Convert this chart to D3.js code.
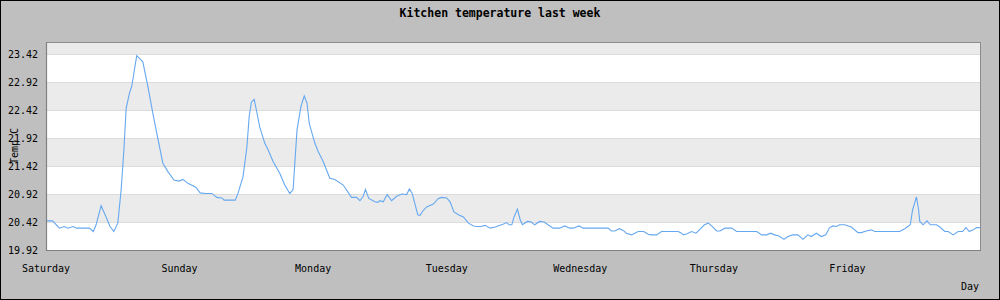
<!DOCTYPE html>
<html>
<head>
<meta charset="utf-8">
<script src="https://cdn.jsdelivr.net/npm/d3@7.9.0/dist/d3.min.js"></script>
<style>
  html, body { margin: 0; padding: 0; background: #bfbfbf; }
  svg { display: block; }
</style>
</head>
<body>
<svg id="chart" width="1000" height="300"></svg>
<script>
// hours since Saturday 00:00
const hours = [
  0, 1.2, 2.4, 3.3, 3.9, 4.9, 5.5, 7.8, 8.5, 9.0, 9.9, 10.8, 11.5, 12.2, 12.9, 13.5, 14.0, 14.4, 15.0, 15.4,
  16.3, 17.4, 18.3, 19.2, 20.1, 21.0, 21.9, 23.0, 23.9, 24.6, 25.5, 26.9, 27.7, 28.7, 29.8, 30.7, 31.6, 32.0, 34.0, 34.5,
  35.4, 36.1, 36.5, 36.9, 37.4, 37.8, 38.4, 39.3, 39.9, 40.8, 42.0, 42.9, 43.8, 44.4, 45.1, 45.8, 46.4, 46.9, 47.3, 48.3,
  48.9, 49.8, 51.0, 51.9, 53.4, 54.9, 55.8, 56.4, 57.0, 57.4, 58.0, 59.1, 59.6, 60.0, 60.6, 61.3, 62.1, 63.0, 63.9, 64.8,
  65.3, 65.8, 66.8, 67.2, 67.8, 68.4, 69.6, 70.5, 71.1, 72.0, 72.6, 73.3, 74.1, 75.0, 75.9, 76.8, 77.5, 78.1, 78.9, 79.8,
  80.7, 81.2, 82.1, 82.8, 83.2, 83.7, 84.1, 84.7, 85.2, 85.6, 86.5, 87.2, 87.8, 88.7, 89.5, 90.2, 91.1, 92.3, 93.2, 94.1,
  94.7, 95.8, 96.5, 101.0, 101.6, 102.2, 103.0, 103.7, 104.3, 105.2, 105.8, 106.4, 107.4, 108.2, 108.8, 109.7, 110.6, 113.6, 114.2, 114.5,
  115.2, 116.0, 116.8, 117.5, 118.3, 119.0, 119.6, 120.5, 121.1, 122.0, 123.2, 124.1, 127.7, 128.6, 129.5, 130.2, 130.9, 131.7, 132.6, 133.3,
  134.2, 135.1, 136.0, 136.9, 137.5, 138.4, 139.3, 140.1, 140.8, 141.4, 142.0, 142.6, 143.5, 144.7, 145.9, 146.5, 147.4, 148.3, 148.9, 153.4,
  154.3, 155.3, 155.7, 156.4, 156.8, 157.0, 157.6, 158.3, 158.9, 160.0, 160.6, 161.5, 162.1, 163.0, 163.9, 164.7, 165.3, 165.9, 166.6, 167.2,
  167.8
];

const temps = [
  20.44, 20.44, 20.31, 20.34, 20.31, 20.34, 20.31, 20.31, 20.25, 20.37, 20.71, 20.51, 20.34, 20.25, 20.40, 20.99, 21.71, 22.45, 22.72, 22.84,
  23.39, 23.28, 22.84, 22.36, 21.91, 21.47, 21.32, 21.17, 21.15, 21.18, 21.11, 21.04, 20.94, 20.93, 20.93, 20.86, 20.85, 20.81, 20.81, 20.93,
  21.23, 21.76, 22.30, 22.56, 22.61, 22.42, 22.12, 21.83, 21.71, 21.50, 21.29, 21.08, 20.93, 21.00, 22.06, 22.48, 22.67, 22.54, 22.18, 21.83,
  21.68, 21.50, 21.20, 21.18, 21.08, 20.86, 20.86, 20.80, 20.88, 21.00, 20.84, 20.78, 20.77, 20.80, 20.78, 20.91, 20.80, 20.88, 20.92, 20.91,
  21.01, 20.93, 20.55, 20.54, 20.63, 20.69, 20.74, 20.84, 20.86, 20.85, 20.78, 20.60, 20.55, 20.51, 20.40, 20.35, 20.34, 20.34, 20.36, 20.31,
  20.33, 20.35, 20.38, 20.41, 20.37, 20.37, 20.51, 20.65, 20.46, 20.37, 20.43, 20.42, 20.37, 20.43, 20.42, 20.37, 20.31, 20.31, 20.35, 20.31,
  20.31, 20.35, 20.31, 20.31, 20.26, 20.26, 20.30, 20.27, 20.22, 20.19, 20.22, 20.25, 20.25, 20.20, 20.19, 20.19, 20.25, 20.25, 20.22, 20.19,
  20.21, 20.25, 20.22, 20.29, 20.37, 20.40, 20.35, 20.26, 20.26, 20.31, 20.31, 20.25, 20.25, 20.19, 20.19, 20.22, 20.19, 20.17, 20.11, 20.16,
  20.19, 20.19, 20.11, 20.19, 20.16, 20.22, 20.16, 20.19, 20.32, 20.35, 20.34, 20.37, 20.37, 20.33, 20.23, 20.23, 20.26, 20.28, 20.25, 20.25,
  20.30, 20.37, 20.63, 20.87, 20.63, 20.43, 20.37, 20.44, 20.37, 20.37, 20.33, 20.25, 20.25, 20.19, 20.25, 20.25, 20.32, 20.25, 20.28, 20.32,
  20.32
];

const days = ['Saturday', 'Sunday', 'Monday', 'Tuesday', 'Wednesday', 'Thursday', 'Friday'];
const yTicks = [19.92, 20.42, 20.92, 21.42, 21.92, 22.42, 22.92, 23.42];

const svg = d3.select('#chart');
const W = 1000, H = 300;
const mLeft = 46, mRight = 981, mTop = 42, mBottom = 250;

const x = d3.scaleLinear().domain([0, 168]).range([mLeft, mRight]);
// 56 px per degree in the reference
const y = d3.scaleLinear().domain([19.92, 19.92 + (mBottom - mTop) / 56]).range([mBottom, mTop]);

// background + outer border
svg.append('rect').attr('x', 0.5).attr('y', 0.5).attr('width', W - 1).attr('height', H - 1)
  .attr('fill', '#bfbfbf').attr('stroke', '#000');

// plot area with alternating bands
svg.append('rect').attr('x', mLeft).attr('y', mTop).attr('width', mRight - mLeft).attr('height', mBottom - mTop)
  .attr('fill', '#ffffff');

const bandEdges = yTicks.concat([y.domain()[1]]);
for (let i = 0; i < bandEdges.length - 1; i++) {
  if (i % 2 === 1) {
    svg.append('rect')
      .attr('x', mLeft)
      .attr('y', y(bandEdges[i + 1]))
      .attr('width', mRight - mLeft)
      .attr('height', y(bandEdges[i]) - y(bandEdges[i + 1]))
      .attr('fill', '#ebebeb');
  }
}

// grid lines
svg.append('g').selectAll('line').data(yTicks.slice(1)).join('line')
  .attr('x1', mLeft).attr('x2', mRight)
  .attr('y1', d => Math.round(y(d)) + 0.5).attr('y2', d => Math.round(y(d)) + 0.5)
  .attr('stroke', '#dcdcdc');

// the data line
const pts = hours.map((h, i) => [h, temps[i]]);
svg.append('path')
  .datum(pts)
  .attr('fill', 'none')
  .attr('stroke', '#66a8f0')
  .attr('stroke-width', 1.1)
  .attr('d', d3.line().x(d => x(d[0])).y(d => y(d[1])));

// frame
svg.append('rect').attr('x', mLeft + 0.5).attr('y', mTop + 0.5)
  .attr('width', mRight - mLeft - 1).attr('height', mBottom - mTop)
  .attr('fill', 'none').attr('stroke', '#8c8c8c');
svg.append('line').attr('x1', mLeft + 0.5).attr('x2', mLeft + 0.5).attr('y1', mTop).attr('y2', mBottom + 1)
  .attr('stroke', '#808080').attr('stroke-width', 1.2);
svg.append('line').attr('x1', mLeft).attr('x2', mRight).attr('y1', mBottom + 0.5).attr('y2', mBottom + 0.5)
  .attr('stroke', '#808080').attr('stroke-width', 1.2);

const font = "'DejaVu Sans Mono', 'Liberation Mono', monospace";

// y labels
svg.append('g').selectAll('text').data(yTicks).join('text')
  .attr('x', 38)
  .attr('y', d => y(d) + 4)
  .attr('text-anchor', 'end')
  .attr('font-family', font).attr('font-size', 10)
  .attr('fill', '#000')
  .text(d => d.toFixed(2));

// x labels
svg.append('g').selectAll('text').data(days).join('text')
  .attr('x', (d, i) => x(i * 24))
  .attr('y', 272)
  .attr('text-anchor', 'middle')
  .attr('font-family', font).attr('font-size', 10)
  .attr('fill', '#000')
  .text(d => d);

// axis titles
svg.append('text')
  .attr('x', 979).attr('y', 290)
  .attr('text-anchor', 'end')
  .attr('font-family', font).attr('font-size', 10)
  .text('Day');

svg.append('text')
  .attr('transform', 'translate(18,146) rotate(-90)')
  .attr('text-anchor', 'middle')
  .attr('font-family', font).attr('font-size', 10)
  .text('Temp C');

// title
svg.append('text')
  .attr('x', 500).attr('y', 17)
  .attr('text-anchor', 'middle')
  .attr('font-family', font).attr('font-size', 11.5).attr('font-weight', 'bold')
  .text('Kitchen temperature last week');
</script>
</body>
</html>
